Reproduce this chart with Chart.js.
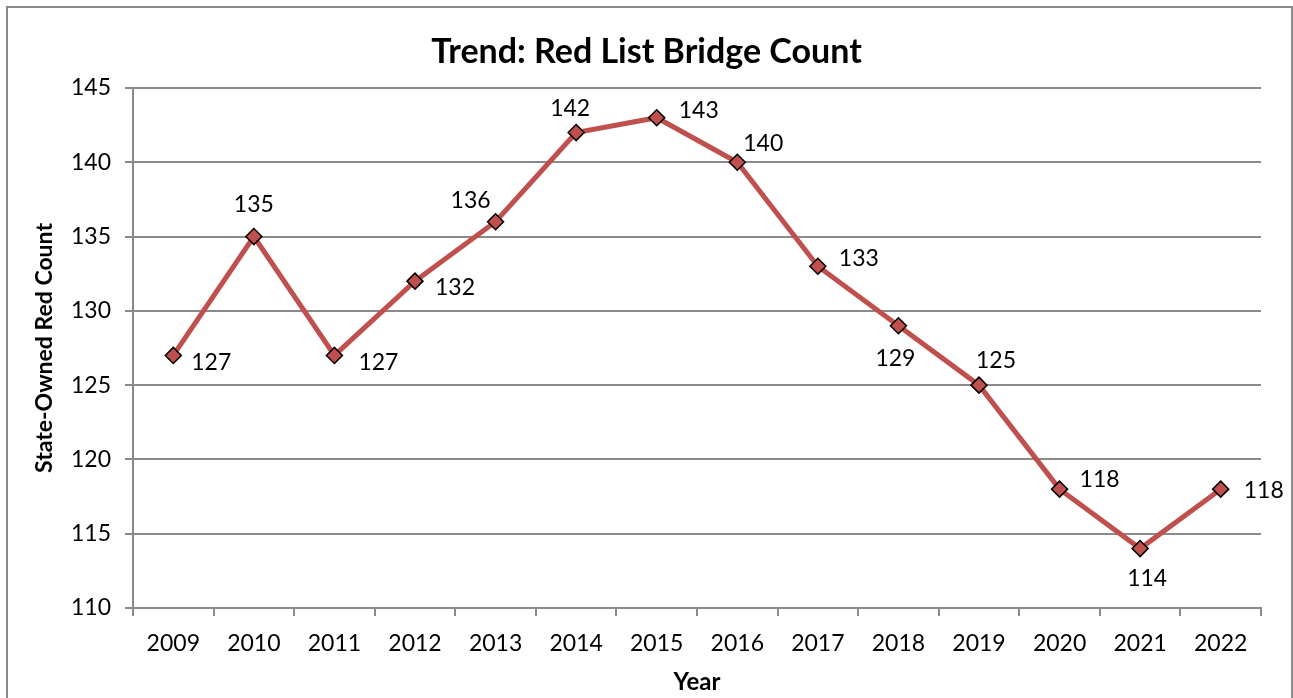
<!DOCTYPE html>
<html>
<head>
<meta charset="utf-8">
<script src="https://cdn.jsdelivr.net/npm/chart.js@4"></script>
<style>
  html, body { margin: 0; padding: 0; background: #fff; }
  canvas { display: block; }
</style>
</head>
<body>
<canvas id="trendChart" width="1293" height="698"></canvas>
<script>
// Chart data
const years = ['2009', '2010', '2011', '2012', '2013', '2014', '2015', '2016', '2017', '2018', '2019', '2020', '2021', '2022'];
const redCounts = [127, 135, 127, 132, 136, 142, 143, 140, 133, 129, 125, 118, 114, 118];
const yTicks = [110, 115, 120, 125, 130, 135, 140, 145];

// where each value label sits relative to its point (px)
const labelOffsets = [
    [38, 7], [0, -32], [44, 7], [40, 6], [-25, -21], [-6, -24], [42, -7],
    [26, -19], [41, -8], [-3, 33], [17, -25], [40, -10], [7, 30], [43, 1]
];

const FONT = 'Lato, "DejaVu Sans", sans-serif';
const RED = '#C0504D';
const GRID = '#8a8a8a';

// white background + outer frame of the chart object
const framePlugin = {
    id: 'frame',
    beforeDraw(chart) {
        const ctx = chart.ctx;
        ctx.save();
        ctx.fillStyle = '#fff';
        ctx.fillRect(0, 0, chart.width, chart.height);
        ctx.strokeStyle = GRID;
        ctx.lineWidth = 2;
        ctx.strokeRect(7, 7, 1285, 720);
        ctx.restore();
    }
};

// value labels next to each point
const valueLabels = {
    id: 'valueLabels',
    afterDatasetsDraw(chart) {
        const ctx = chart.ctx;
        const meta = chart.getDatasetMeta(0);
        ctx.save();
        ctx.font = '23px ' + FONT;
        ctx.fillStyle = '#000';
        ctx.textAlign = 'center';
        ctx.textBaseline = 'middle';
        meta.data.forEach((pt, i) => {
            const off = labelOffsets[i];
            ctx.fillText(String(redCounts[i]), pt.x + off[0], pt.y + off[1]);
        });
        ctx.restore();
    }
};

new Chart(document.getElementById('trendChart'), {
    type: 'line',
    data: {
        labels: years,
        datasets: [{
            label: 'State-Owned Red Count',
            data: redCounts,
            borderColor: RED,
            borderWidth: 5,
            tension: 0,
            pointStyle: 'rectRot',
            pointRadius: 8,
            pointHoverRadius: 8,
            pointBackgroundColor: RED,
            pointBorderColor: '#000',
            pointBorderWidth: 1.5
        }]
    },
    options: {
        responsive: false,
        animation: false,
        devicePixelRatio: 1,
        layout: { padding: 0 },
        plugins: {
            legend: { display: false },
            tooltip: { enabled: false },
            title: {
                display: true,
                text: 'Trend: Red List Bridge Count',
                color: '#000',
                font: { family: FONT, size: 34, weight: 'bold', lineHeight: 1.2 },
                padding: { top: 32, bottom: 15.2 }
            }
        },
        scales: {
            x: {
                offset: true,
                grid: {
                    offset: true,
                    drawOnChartArea: false,
                    drawTicks: true,
                    tickLength: 8,
                    color: GRID,
                    lineWidth: 2
                },
                border: { display: true, color: GRID, width: 2 },
                ticks: {
                    color: '#000',
                    padding: 14,
                    maxRotation: 0,
                    font: { family: FONT, size: 23 }
                },
                title: {
                    display: true,
                    text: 'Year',
                    color: '#000',
                    font: { family: FONT, size: 24, weight: 'bold', lineHeight: 1.2 },
                    padding: { top: 0, bottom: 1 }
                },
                afterFit(scale) { scale.height = 90; }
            },
            y: {
                min: 110,
                max: 145,
                afterBuildTicks(scale) {
                    scale.ticks = yTicks.map(v => ({ value: v }));
                },
                grid: {
                    color: GRID,
                    lineWidth: 2,
                    drawTicks: true,
                    tickLength: 8
                },
                border: { display: true, color: GRID, width: 2 },
                ticks: {
                    color: '#000',
                    padding: 14,
                    font: { family: FONT, size: 23 }
                },
                title: {
                    display: true,
                    text: 'State-Owned Red Count',
                    color: '#000',
                    font: { family: FONT, size: 23, weight: 'bold', lineHeight: 1.2 },
                    padding: { top: 31, bottom: 0 }
                },
                afterFit(scale) { scale.width = 133; }
            },
            // empty strip on the right so the plot ends where the reference does
            ySpacer: {
                position: 'right',
                min: 110,
                max: 145,
                grid: { display: false, drawOnChartArea: false },
                border: { display: false },
                ticks: { display: false },
                afterFit(scale) { scale.width = 32; }
            }
        }
    },
    plugins: [framePlugin, valueLabels]
});
</script>
</body>
</html>
